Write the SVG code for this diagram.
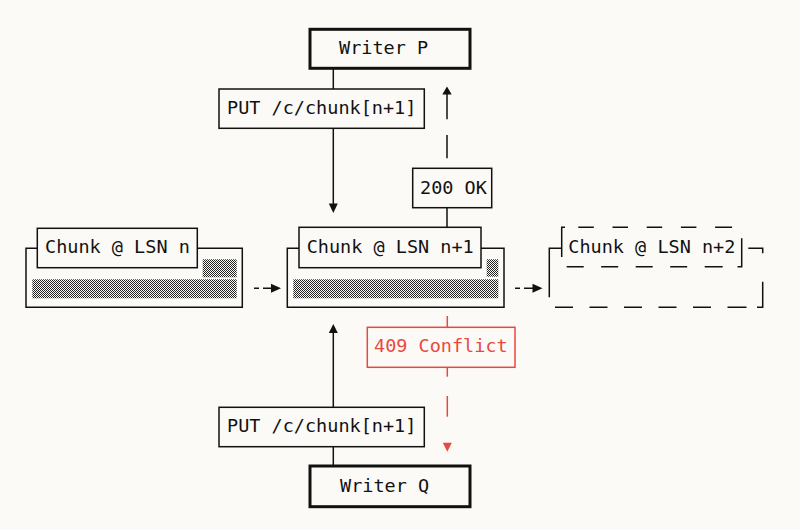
<svg xmlns="http://www.w3.org/2000/svg" width="800" height="530" viewBox="0 0 800 530">
  <style>
    .t { font-family: "DejaVu Sans Mono", "Liberation Mono", monospace; font-size: 18.5px; fill: #111; }
    .tr { font-family: "DejaVu Sans Mono", "Liberation Mono", monospace; font-size: 18.5px; fill: #e8493e; }
    .box { fill: #fbfaf7; stroke: #111; stroke-width: 1.5; }
    .heavy { fill: #fbfaf7; stroke: #111; stroke-width: 3; }
    .ln { fill: none; stroke: #111; stroke-width: 1.5; }
    .lnr { fill: none; stroke: #e8493e; stroke-width: 1.5; }
    .boxr { fill: #fbfaf7; stroke: #e8493e; stroke-width: 1.5; }
    .ah { fill: #111; }
    .ahr { fill: #e8493e; }
    .shade { fill: url(#shade); }
  </style>
  <defs>
    <pattern id="shade" width="2" height="2" patternUnits="userSpaceOnUse">
      <rect width="2" height="2" fill="#fbfaf7"/>
      <rect width="1" height="1" fill="#222"/>
      <rect x="1" y="1" width="1" height="1" fill="#222"/>
    </pattern>
  </defs>
  <rect width="800" height="530" fill="#fbfaf7"/>

  <g id="connectors">
    <!-- Writer P -> PUT label -> chunk n+1 -->
    <line class="ln" x1="333.3" y1="68" x2="333.3" y2="89" stroke-width="2.2"/>
    <line class="ln" x1="333.3" y1="128.3" x2="333.3" y2="204"/>
    <polygon class="ah" points="328.8,203.5 337.8,203.5 333.3,213"/>
    <!-- 200 OK back to Writer P -->
    <line class="ln" x1="447" y1="207.7" x2="447" y2="227.3"/>
    <line class="ln" x1="447" y1="135" x2="447" y2="158.3"/>
    <line class="ln" x1="447" y1="94" x2="447" y2="119.3"/>
    <polygon class="ah" points="442.3,94.5 451.7,94.5 447,86.5"/>
    <!-- Writer Q -> PUT label -> chunk n+1 -->
    <line class="ln" x1="333.3" y1="446.7" x2="333.3" y2="466" stroke-width="2.2"/>
    <line class="ln" x1="333.3" y1="407.3" x2="333.3" y2="332"/>
    <polygon class="ah" points="328.8,333 337.8,333 333.3,324"/>
    <!-- 409 Conflict to Writer Q -->
    <line class="lnr" x1="447.3" y1="316" x2="447.3" y2="327.3"/>
    <line class="lnr" x1="447.3" y1="367.3" x2="447.3" y2="376.7"/>
    <line class="lnr" x1="447.3" y1="396" x2="447.3" y2="416.7"/>
    <polygon class="ahr" points="442.8,442.7 451.8,442.7 447.3,451.7"/>
    <!-- chain arrows -->
    <path class="ln" d="M254,288.3 H259 M263,288.3 H272"/>
    <polygon class="ah" points="271,283.8 271,292.8 281,288.3"/>
    <path class="ln" d="M515,288.3 H520 M524,288.3 H533"/>
    <polygon class="ah" points="532.5,283.8 532.5,292.8 542.5,288.3"/>
  </g>

  <g id="writer-p">
    <rect class="heavy" x="310" y="29.3" width="160" height="39"/>
    <text class="t" x="339" y="53.5">Writer P</text>
  </g>

  <g id="put-p">
    <rect class="box" x="219" y="89" width="205.3" height="39.3"/>
    <text class="t" x="227" y="114">PUT /c/chunk[n+1]</text>
  </g>

  <g id="ok-200">
    <rect class="box" x="412.7" y="168.3" width="79" height="39.4"/>
    <text class="t" x="420" y="193.5">200 OK</text>
  </g>

  <g id="chunk-n">
    <path class="ln" d="M37.3,248.3 H26 V307.3 H242.3 V248.3 H197.3"/>
    <rect class="box" x="37.3" y="228.3" width="160" height="39.4"/>
    <rect class="shade" x="202.7" y="259.3" width="34" height="18"/>
    <rect class="shade" x="32.3" y="279.3" width="204.4" height="19"/>
    <text class="t" x="45" y="252.5">Chunk @ LSN n</text>
  </g>

  <g id="chunk-n1">
    <path class="ln" d="M299,248.3 H287.3 V307.3 H504 V248.3 H481"/>
    <rect class="box" x="299" y="227.3" width="182" height="40.4"/>
    <rect class="shade" x="486.7" y="259.3" width="11.6" height="17.4"/>
    <rect class="shade" x="293.3" y="279.3" width="205" height="19"/>
    <text class="t" x="306.7" y="252.5">Chunk @ LSN n+1</text>
  </g>

  <g id="chunk-n2">
    <path class="ln" d="M565,227.3 H561.7 V257 M549.3,297.3 V248.3 H561.7 M741.7,238.3 V266.7 H737.5 M748.3,248.3 H762.7 V253.3 M762.7,281.7 V307.3 H757"/>
    <path class="ln" d="M578.3,227.3 h15.5 M612.5,227.3 h15.5 M646.7,227.3 h15.5 M680.9,227.3 h15.5 M715.1,227.3 h17"/>
    <path class="ln" d="M566.7,266.7 h17 M601.2,266.7 h17 M635.7,266.7 h17 M670.2,266.7 h17 M704.7,266.7 h18"/>
    <path class="ln" d="M555,307.3 h18 M589.5,307.3 h18 M624,307.3 h18 M658.5,307.3 h18 M693,307.3 h18 M727.5,307.3 h19"/>
    <text class="t" x="568.3" y="252.5">Chunk @ LSN n+2</text>
  </g>

  <g id="conflict-409">
    <rect class="boxr" x="367.3" y="327.3" width="147.7" height="40"/>
    <text class="tr" x="374" y="352">409 Conflict</text>
  </g>

  <g id="put-q">
    <rect class="box" x="219" y="407.3" width="205.3" height="39.4"/>
    <text class="t" x="227" y="432">PUT /c/chunk[n+1]</text>
  </g>

  <g id="writer-q">
    <rect class="heavy" x="310" y="466" width="160" height="40.7"/>
    <text class="t" x="340" y="492">Writer Q</text>
  </g>
</svg>
